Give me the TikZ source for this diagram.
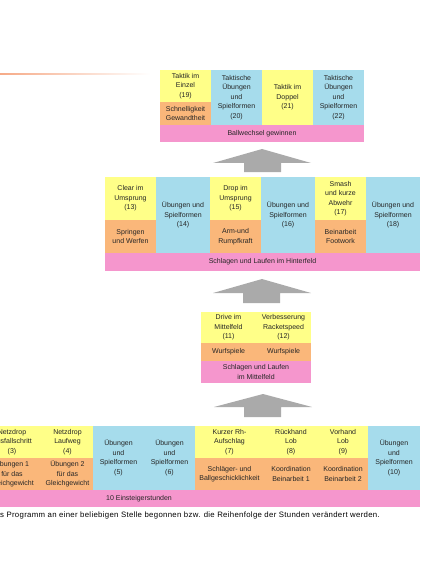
\documentclass[tikz,border=0pt]{standalone}
\usepackage{fontspec}
\setmainfont{Liberation Sans}
\definecolor{cyel}{RGB}{255,255,136}
\definecolor{cblu}{RGB}{166,220,236}
\definecolor{cora}{RGB}{250,183,122}
\definecolor{cpnk}{RGB}{245,150,205}
\definecolor{carr}{RGB}{170,170,170}
\definecolor{cline}{RGB}{246,170,135}
\begin{document}
\begin{tikzpicture}[x=1pt,y=-1pt,
  cell/.style={inner sep=0pt, outer sep=0pt, align=center, anchor=north west,
    font=\fontsize{7}{9.5}\selectfont, text=black!85},
  yel/.style={cell, fill=cyel},
  blu/.style={cell, fill=cblu},
  ora/.style={cell, fill=cora},
  pnk/.style={cell, fill=cpnk},
  blockarrow/.style={fill=carr}]
\useasboundingbox (0,0) rectangle (422,580);
\clip (0,0) rectangle (422,580);

% faded line top left
\shade[left color=cline, right color=white] (0,73.3) rectangle (150,74.7);

% ---------- top block ----------
\node[yel, minimum width=51pt, minimum height=32pt] (t19) at (160,70) {Taktik im\\Einzel\\(19)};
\node[ora, minimum width=51pt, minimum height=23pt] (t19o) at (160,102) {Schnelligkeit\\Gewandtheit};
\node[blu, minimum width=51pt, minimum height=55pt] (t20) at (211,70) {Taktische\\Übungen\\und\\Spielformen\\(20)};
\node[yel, minimum width=51pt, minimum height=55pt] (t21) at (262,70) {Taktik im\\Doppel\\(21)};
\node[blu, minimum width=51pt, minimum height=55pt] (t22) at (313,70) {Taktische\\Übungen\\und\\Spielformen\\(22)};
\node[pnk, minimum width=204pt, minimum height=17pt] (tp) at (160,125) {Ballwechsel gewinnen};

% arrow 1
\fill[blockarrow, shift={(262,149)}] (0,0) -- (49,14) -- (19,14) -- (19,23) -- (-18,23) -- (-18,14) -- (-49,14) -- cycle;

% ---------- second block ----------
\node[yel, minimum width=51pt, minimum height=43pt] (s13) at (105,177) {Clear im\\Umsprung\\(13)};
\node[ora, minimum width=51pt, minimum height=33pt] (s13o) at (105,220) {Springen\\und Werfen};
\node[blu, minimum width=54pt, minimum height=76pt] (s14) at (156,177) {Übungen und\\Spielformen\\(14)};
\node[yel, minimum width=51pt, minimum height=43pt] (s15) at (210,177) {Drop im\\Umsprung\\(15)};
\node[ora, minimum width=51pt, minimum height=33pt] (s15o) at (210,220) {Arm-und\\Rumpfkraft};
\node[blu, minimum width=54pt, minimum height=76pt] (s16) at (261,177) {Übungen und\\Spielformen\\(16)};
\node[yel, minimum width=51pt, minimum height=43pt] (s17) at (315,177) {Smash\\und kurze\\Abwehr\\(17)};
\node[ora, minimum width=51pt, minimum height=33pt] (s17o) at (315,220) {Beinarbeit\\Footwork};
\node[blu, minimum width=54pt, minimum height=76pt] (s18) at (366,177) {Übungen und\\Spielformen\\(18)};
\node[pnk, minimum width=315pt, minimum height=18pt] (sp) at (105,253) {Schlagen und Laufen im Hinterfeld};

% arrow 2
\fill[blockarrow, shift={(262,279)}] (0,0) -- (49,14) -- (18,14) -- (18,24) -- (-19,24) -- (-19,14) -- (-49,14) -- cycle;

% ---------- third block ----------
\node[yel, minimum width=55pt, minimum height=31pt] (m11) at (201,312) {Drive im\\Mittelfeld\\(11)};
\node[ora, minimum width=55pt, minimum height=18pt] (m11o) at (201,343) {Wurfspiele};
\node[yel, minimum width=55pt, minimum height=31pt] (m12) at (256,312) {Verbesserung\\Racketspeed\\(12)};
\node[ora, minimum width=55pt, minimum height=18pt] (m12o) at (256,343) {Wurfspiele};
\node[pnk, minimum width=110pt, minimum height=22pt] (mp) at (201,361) {Schlagen und Laufen\\im Mittelfeld};

% arrow 3
\fill[blockarrow, shift={(263,394)}] (0,0) -- (49,13) -- (18,13) -- (18,23) -- (-19,23) -- (-19,13) -- (-49,13) -- cycle;

% ---------- bottom block ----------
\node[yel, minimum width=60pt, minimum height=32pt] (e3) at (-18,426) {Netzdrop\\Ausfallschritt\\(3)};
\node[ora, minimum width=60pt, minimum height=32pt] (e3o) at (-18,458) {Übungen 1\\für das\\Gleichgewicht};
\node[yel, minimum width=51pt, minimum height=32pt] (e4) at (42,426) {Netzdrop\\Laufweg\\(4)};
\node[ora, minimum width=51pt, minimum height=32pt] (e4o) at (42,458) {Übungen 2\\für das\\Gleichgewicht};
\node[blu, minimum width=51pt, minimum height=64pt] (e5) at (93,426) {Übungen\\und\\Spielformen\\(5)};
\node[blu, minimum width=51pt, minimum height=64pt] (e6) at (144,426) {Übungen\\und\\Spielformen\\(6)};
\node[yel, minimum width=69pt, minimum height=32pt] (e7) at (195,426) {Kurzer Rh-\\Aufschlag\\(7)};
\node[ora, minimum width=69pt, minimum height=32pt] (e7o) at (195,458) {Schläger- und\\Ballgeschicklichkeit};
\node[yel, minimum width=54pt, minimum height=32pt] (e8) at (264,426) {Rückhand\\Lob\\(8)};
\node[ora, minimum width=54pt, minimum height=32pt] (e8o) at (264,458) {Koordination\\Beinarbeit 1};
\node[yel, minimum width=50pt, minimum height=32pt] (e9) at (318,426) {Vorhand\\Lob\\(9)};
\node[ora, minimum width=50pt, minimum height=32pt] (e9o) at (318,458) {Koordination\\Beinarbeit 2};
\node[blu, minimum width=52pt, minimum height=64pt] (e10) at (368,426) {Übungen\\und\\Spielformen\\(10)};
\node[pnk, minimum width=562pt, minimum height=17pt] (ep) at (-142,490) {10 Einsteigerstunden};

% caption
\node[anchor=west, inner sep=0pt, font=\fontsize{7.8}{9}\selectfont\addfontfeature{LetterSpace=4}] (cap) at (0,515)
  {s Programm an einer beliebigen Stelle begonnen bzw. die Reihenfolge der Stunden verändert werden.};
\end{tikzpicture}
\end{document}
